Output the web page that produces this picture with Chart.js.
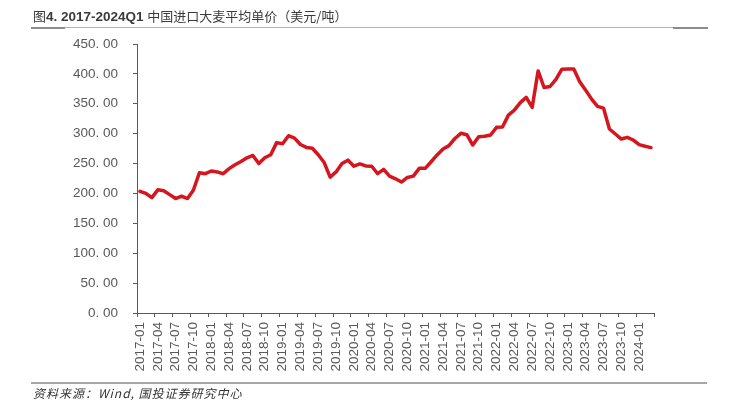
<!DOCTYPE html>
<html>
<head>
<meta charset="utf-8">
<script src="https://cdn.jsdelivr.net/npm/chart.js@4"></script>
<style>
    body { margin: 0; background: #fff; }
    #wrap { position: relative; width: 731px; height: 414px; overflow: hidden; font-family: "Liberation Sans", Arial, sans-serif; }
    #chart { position: absolute; left: 0; top: 0; }
    .title { position: absolute; left: 33px; top: 6px; font-size: 13.5px; font-weight: bold; color: #3a3a3a; white-space: nowrap; }
    .title .cn { font-family: "Noto Sans CJK SC", sans-serif; font-weight: normal; font-size: 13px; }
    .rule { position: absolute; height: 0; }
    .source { position: absolute; left: 33px; top: 384px; font-size: 12px; font-style: italic; color: #333; white-space: nowrap; font-family: "Noto Sans CJK SC", sans-serif; letter-spacing: 1px; }
</style>
</head>
<body>
<div id="wrap">
    <canvas id="chart" width="731" height="414"></canvas>
    <div class="title"><span class="cn">图</span>4. 2017-2024Q1 <span class="cn">中国进口大麦平均单价（美元/吨）</span></div>
    <div class="rule" style="left:31px; top:27px; width:677px; border-top:1px solid #b4b4b4;"></div>
    <div class="rule" style="left:31px; top:27px; width:34px; border-top:2px solid #8c8c8c;"></div>
    <div class="rule" style="left:673px; top:27px; width:35px; border-top:2px solid #8c8c8c;"></div>
    <div class="rule" style="left:31px; top:382px; width:676px; border-top:2px solid #a6a6a6;"></div>
    <div class="source">资料来源：Wind, 国投证券研究中心</div>
</div>
<script>
// ========== 中国进口大麦平均单价 ==========

const startYear = 2017;
const monthCount = 87; // 2017-01 .. 2024-03

const months = [];
for (let i = 0; i < monthCount; i++) {
    const y = startYear + Math.floor(i / 12);
    const m = (i % 12) + 1;
    months.push(y + '-' + (m < 10 ? '0' + m : m));
}

// 美元/吨
const barleyPrice = [
    203.4, 200, 193, 206, 204.6, 198, 191.5, 195.5, 191.5, 205.7, 234.7, 233,
    237.5, 236, 233, 241.5, 248, 253.4, 259.7, 263.6, 250, 259.7, 264.8, 285,
    283, 296.6, 292.6, 281.8, 277, 275.6, 264.8, 251.7, 227.3, 236, 250, 255.7,
    245.5, 249.5, 246, 245.5, 233, 240.4, 229, 224.5, 219, 226.7, 229, 242,
    242, 253, 264.4, 274.4, 280, 292, 300.6, 298.3, 281, 295, 295.6, 297.8,
    310.6, 311, 331, 339.4, 352, 360.6, 343.9, 405, 377.2, 378.9, 391, 407.8,
    408, 408, 386.7, 372.8, 357.8, 345.6, 342.8, 307.8, 299.4, 291, 293.9, 289.4,
    281.7, 278.9, 276.7
];

const yMin = 0;
const yMax = 450;
const yStep = 50;
const labelEvery = 3;

const axisColor = '#595959';
const textColor = '#595959';

const ctx = document.getElementById('chart').getContext('2d');
const chart = new Chart(ctx, {
    type: 'line',
    data: {
        labels: months,
        datasets: [
            {
                label: '中国进口大麦平均单价',
                data: barleyPrice,
                borderColor: '#d5161f',
                backgroundColor: '#d5161f',
                borderWidth: 3.5,
                pointRadius: 0,
                tension: 0,
                borderJoinStyle: 'round',
                borderCapStyle: 'round'
            }
        ]
    },
    options: {
        responsive: false,
        animation: false,
        devicePixelRatio: 1,
        layout: { padding: { left: 0, top: 44, right: 77, bottom: 0 } },
        plugins: {
            legend: { display: false },
            tooltip: { enabled: false },
            title: { display: false }
        },
        scales: {
            x: {
                type: 'category',
                offset: true,
                afterFit: scale => { scale.height = 101; },
                border: { display: true, color: axisColor, width: 1 },
                grid: {
                    offset: true,
                    drawOnChartArea: false,
                    drawTicks: true,
                    tickLength: 4,
                    color: c => (c.index === undefined || c.index % labelEvery === 0) ? axisColor : 'rgba(0,0,0,0)'
                },
                ticks: {
                    autoSkip: false,
                    minRotation: 90,
                    maxRotation: 90,
                    padding: 5,
                    color: textColor,
                    font: { family: '"Liberation Sans", Arial, sans-serif', size: 13.5 },
                    callback: function (value, index) {
                        return index % labelEvery === 0 ? this.getLabelForValue(value) : '';
                    }
                }
            },
            y: {
                min: yMin,
                max: yMax,
                afterFit: scale => { scale.width = 137; },
                border: { display: true, color: axisColor, width: 1 },
                grid: {
                    drawOnChartArea: false,
                    drawTicks: true,
                    tickLength: 4,
                    color: axisColor
                },
                ticks: {
                    stepSize: yStep,
                    padding: 15,
                    color: textColor,
                    font: { family: '"Liberation Sans", Arial, sans-serif', size: 13.5 },
                    callback: value => value.toFixed(2).replace('.', '. ')
                }
            }
        }
    }
});
</script>
</body>
</html>
